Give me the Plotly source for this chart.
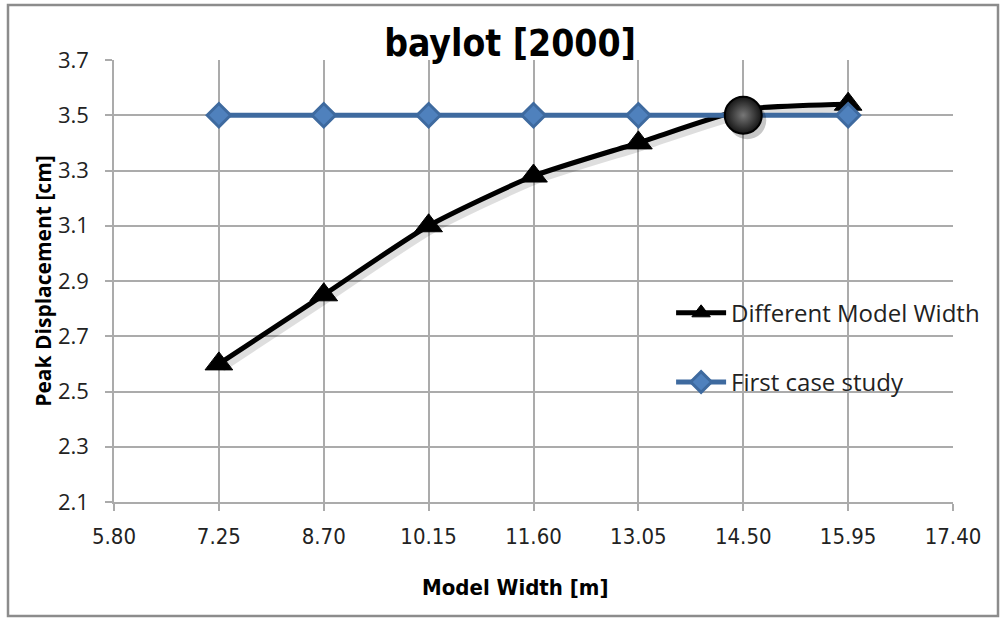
import plotly.graph_objects as go

# Model widths [m] and peak displacements [cm]
model_width = [7.25, 8.70, 10.15, 11.60, 13.05, 14.50, 15.95]
different_model_width = [2.60, 2.85, 3.10, 3.28, 3.40, 3.52, 3.54]
first_case_study = [3.50, 3.50, 3.50, 3.50, 3.50, 3.50, 3.50]

x_ticks = [5.80, 7.25, 8.70, 10.15, 11.60, 13.05, 14.50, 15.95, 17.40]
y_ticks = [2.1, 2.3, 2.5, 2.7, 2.9, 3.1, 3.3, 3.5, 3.7]

# point where the two curves meet
crossing_x = 14.50
crossing_y = 3.50

W, H = 1000, 618
margin = dict(l=114, r=47, t=60, b=116)
plot_w = W - margin["l"] - margin["r"]
plot_h = H - margin["t"] - margin["b"]
x_range = [x_ticks[0], x_ticks[-1]]
y_range = [y_ticks[0], y_ticks[-1]]

# pixel -> data unit conversion for drop shadows
px_x = (x_range[1] - x_range[0]) / plot_w
px_y = (y_range[1] - y_range[0]) / plot_h

grid = "#ABABAB"
blue_line = "#3E6A9F"
blue_fill = "#4F81BD"

fig = go.Figure()

# soft shadow under the black curve
fig.add_trace(go.Scatter(
    x=[v + 3 * px_x for v in model_width],
    y=[v - 4 * px_y for v in different_model_width],
    mode="lines",
    line=dict(color="rgba(0,0,0,0.13)", width=8, shape="spline", smoothing=0.6),
    showlegend=False, hoverinfo="skip"))

fig.add_trace(go.Scatter(
    x=model_width, y=different_model_width, name="Different Model Width",
    mode="lines+markers", legendgroup="a",
    line=dict(color="black", width=5, shape="spline", smoothing=0.6),
    marker=dict(symbol="triangle-up", size=24, color="black",
                line=dict(color="black", width=1))))

fig.add_trace(go.Scatter(
    x=model_width, y=first_case_study, name="First case study",
    mode="lines+markers", legendgroup="b",
    line=dict(color=blue_line, width=5),
    marker=dict(symbol="diamond", size=18, color=blue_fill,
                line=dict(color=blue_line, width=3))))

# highlight at the crossing point, with its shadow
fig.add_trace(go.Scatter(
    x=[crossing_x + 4 * px_x], y=[crossing_y - 5 * px_y], mode="markers",
    marker=dict(symbol="circle", size=38, color="rgba(0,0,0,0.22)",
                line=dict(width=0)),
    showlegend=False, hoverinfo="skip"))
fig.add_trace(go.Scatter(
    x=[crossing_x], y=[crossing_y], mode="markers",
    marker=dict(symbol="circle", size=37, color="#151515",
                gradient=dict(type="radial", color="#777777"),
                line=dict(color="black", width=2)),
    showlegend=False, hoverinfo="skip"))

narrow = "DejaVu Sans Condensed, Liberation Sans Narrow, sans-serif"
regular = "Open Sans, Lato, sans-serif"

fig.update_layout(
    width=W, height=H, margin=margin,
    paper_bgcolor="white", plot_bgcolor="white",
    title=dict(text="<b>baylot [2000]</b>", x=0.51, xanchor="center",
               y=0.93, yanchor="middle",
               font=dict(family=narrow, size=37, color="black")),
    xaxis=dict(range=x_range, tickvals=x_ticks,
               ticktext=[f"{v:.2f}" for v in x_ticks],
               showgrid=True, gridcolor=grid, gridwidth=1.5,
               showline=True, linecolor=grid, linewidth=1.5,
               ticks="outside", ticklen=7, tickcolor=grid, tickwidth=1.5,
               ticklabelstandoff=7, zeroline=False,
               tickfont=dict(family=narrow, size=22, color="#222")),
    yaxis=dict(range=y_range, tickvals=y_ticks,
               ticktext=[f"{v:.1f}" for v in y_ticks],
               showgrid=True, gridcolor=grid, gridwidth=1.5,
               showline=True, linecolor=grid, linewidth=1.5,
               ticks="outside", ticklen=7, tickcolor=grid, tickwidth=1.5,
               ticklabelstandoff=12, zeroline=False,
               tickfont=dict(family=regular, size=22, color="#222"),
               title=dict(text="<b>Peak Displacement [cm]</b>", standoff=1,
                          font=dict(family=regular, size=21, color="black"))),
    legend=dict(x=0.664, y=0.478, xanchor="left", yanchor="top",
                bgcolor="rgba(0,0,0,0)", tracegroupgap=35, itemwidth=50,
                font=dict(family=regular, size=24, color="#222")),
    annotations=[dict(text="<b>Model Width [m]</b>", xref="paper", yref="paper",
                      x=(515 - margin["l"]) / plot_w,
                      y=-(587 - H + margin["b"]) / plot_h,
                      xanchor="center", yanchor="middle", showarrow=False,
                      font=dict(family=narrow, size=22, color="black"))],
    shapes=[dict(type="rect", xref="paper", yref="paper",
                 x0=(8 - margin["l"]) / plot_w,
                 x1=(998 - margin["l"]) / plot_w,
                 y0=-(616 - H + margin["b"]) / plot_h,
                 y1=1 + (margin["t"] - 5) / plot_h,
                 line=dict(color="#8c8c8c", width=2.5), layer="below")],
)

fig.write_html("out.html")
